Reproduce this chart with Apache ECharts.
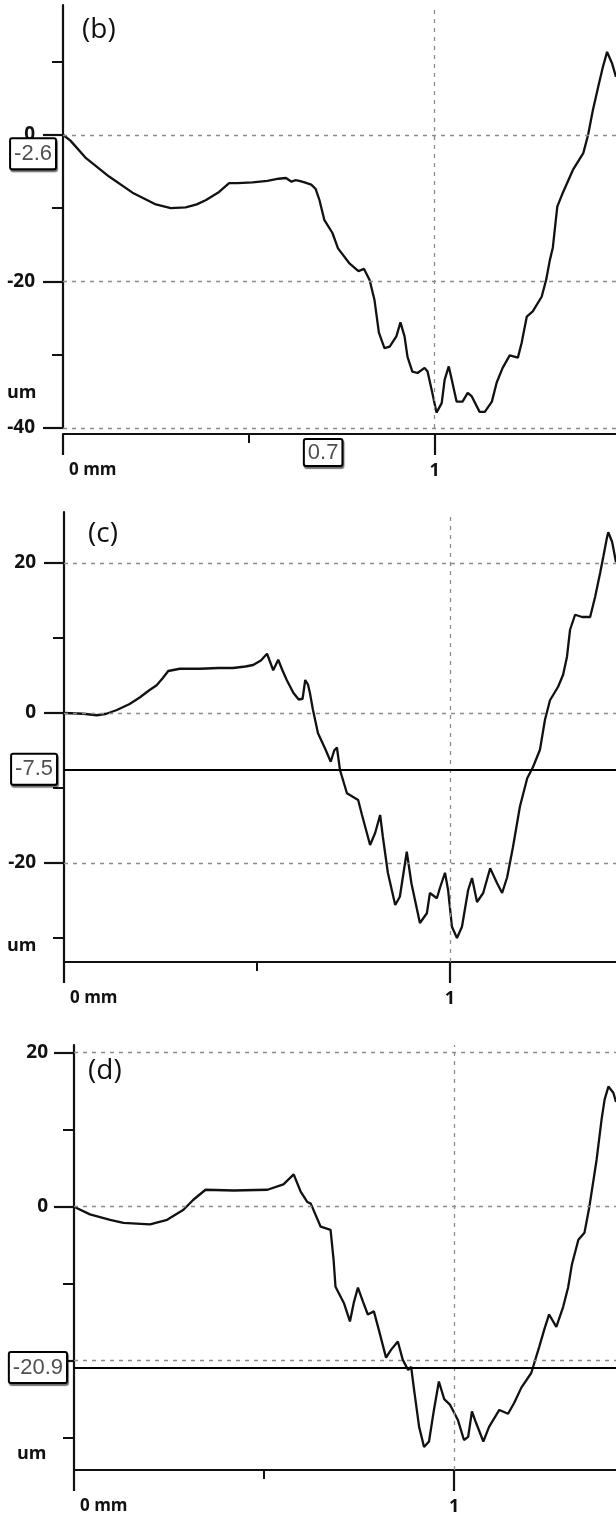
<!DOCTYPE html>
<html>
<head>
<meta charset="utf-8">
<script src="https://cdn.jsdelivr.net/npm/echarts@6/dist/echarts.min.js"></script>
<style>
  html, body { margin: 0; padding: 0; background: #fff; }
  #chart { width: 616px; height: 1519px; }
</style>
</head>
<body>
<div id="chart"></div>
<script>
// ---- profile (b): distance (mm) / height (um)
const bX = [0, 0.02, 0.062, 0.124, 0.187, 0.25, 0.29, 0.33, 0.36, 0.385, 0.42, 0.447, 0.47, 0.51, 0.55, 0.58, 0.60, 0.615, 0.625, 0.636, 0.65, 0.668, 0.68, 0.69, 0.703, 0.725, 0.74, 0.77, 0.795, 0.81, 0.825, 0.838, 0.85, 0.865, 0.879, 0.897, 0.908, 0.919, 0.927, 0.94, 0.954, 0.973, 0.981, 0.992, 1.005, 1.019, 1.027, 1.038, 1.046, 1.059, 1.075, 1.089, 1.10, 1.121, 1.135, 1.154, 1.167, 1.183, 1.202, 1.224, 1.234, 1.248, 1.264, 1.288, 1.30, 1.31, 1.318, 1.33, 1.345, 1.372, 1.40, 1.413, 1.426, 1.44, 1.453, 1.464, 1.477, 1.488];
const bY = [0, -0.8, -3.2, -5.7, -7.9, -9.5, -10.0, -9.9, -9.5, -8.9, -7.8, -6.6, -6.6, -6.5, -6.3, -6.0, -5.9, -6.4, -6.2, -6.3, -6.5, -6.8, -7.4, -8.9, -11.6, -13.4, -15.5, -17.5, -18.6, -18.3, -19.8, -22.5, -27, -29.1, -28.9, -27.5, -25.6, -27.5, -30.3, -32.3, -32.5, -31.8, -32.3, -34.8, -37.9, -36.6, -33.4, -31.6, -33.4, -36.4, -36.4, -35.2, -35.7, -37.8, -37.8, -36.4, -33.8, -31.8, -30.1, -30.4, -28.4, -24.8, -24.1, -22.1, -19.8, -17.1, -15.4, -9.8, -7.9, -4.8, -2.5, 0, 3.4, 6.5, 9.3, 11.3, 9.8, 7.9];

// ---- profile (c)
const cX = [0, 0.05, 0.085, 0.11, 0.137, 0.17, 0.197, 0.22, 0.24, 0.255, 0.27, 0.30, 0.352, 0.40, 0.438, 0.47, 0.49, 0.51, 0.526, 0.534, 0.542, 0.555, 0.565, 0.577, 0.594, 0.608, 0.618, 0.625, 0.632, 0.637, 0.645, 0.658, 0.676, 0.691, 0.70, 0.707, 0.715, 0.733, 0.762, 0.772, 0.793, 0.806, 0.819, 0.826, 0.839, 0.858, 0.87, 0.888, 0.90, 0.922, 0.94, 0.948, 0.966, 0.974, 0.987, 0.995, 1.005, 1.018, 1.031, 1.047, 1.057, 1.07, 1.086, 1.104, 1.122, 1.135, 1.148, 1.163, 1.181, 1.20, 1.215, 1.233, 1.246, 1.259, 1.28, 1.293, 1.303, 1.311, 1.324, 1.342, 1.363, 1.376, 1.389, 1.397, 1.407, 1.41, 1.42, 1.43];
const cY = [0, -0.1, -0.3, -0.1, 0.4, 1.2, 2.1, 3.0, 3.7, 4.6, 5.6, 5.9, 5.9, 6.0, 6.0, 6.2, 6.4, 7.0, 7.9, 6.8, 5.7, 7.1, 5.8, 4.4, 2.7, 1.8, 1.9, 4.4, 3.8, 2.7, 0.4, -2.7, -4.7, -6.5, -5.0, -4.6, -7.6, -10.7, -11.6, -13.6, -17.6, -16.0, -13.6, -16.5, -21.3, -25.6, -24.5, -18.5, -22.7, -28, -26.7, -24, -24.7, -23.3, -21.3, -23.6, -28.5, -30, -28.5, -23.6, -22, -25.2, -24, -20.7, -22.7, -24, -21.9, -17.9, -12.5, -8.7, -7.2, -4.9, -0.9, 1.7, 3.5, 5.1, 7.5, 11.1, 13.1, 12.8, 12.8, 15.5, 18.7, 20.8, 23.5, 24.1, 22.8, 20.1];

// ---- profile (d)
const dX = [0, 0.042, 0.095, 0.13, 0.2, 0.245, 0.288, 0.314, 0.346, 0.42, 0.509, 0.551, 0.578, 0.596, 0.614, 0.623, 0.649, 0.675, 0.683, 0.688, 0.71, 0.726, 0.736, 0.747, 0.76, 0.773, 0.789, 0.802, 0.821, 0.834, 0.852, 0.865, 0.879, 0.887, 0.894, 0.908, 0.921, 0.934, 0.947, 0.96, 0.974, 0.989, 1.01, 1.026, 1.037, 1.047, 1.058, 1.077, 1.092, 1.119, 1.142, 1.158, 1.177, 1.203, 1.211, 1.224, 1.237, 1.25, 1.269, 1.287, 1.30, 1.31, 1.327, 1.343, 1.356, 1.375, 1.388, 1.396, 1.406, 1.419, 1.426];
const dY = [0, -1.0, -1.7, -2.1, -2.3, -1.7, -0.4, 0.9, 2.2, 2.1, 2.2, 2.9, 4.2, 2.0, 0.6, 0.4, -2.6, -3.0, -6.9, -10.4, -12.5, -14.9, -12.5, -10.5, -12.3, -14.0, -13.6, -16, -19.6, -18.6, -17.5, -19.9, -21.2, -20.8, -23.5, -28.6, -31.2, -30.5, -26.4, -22.7, -25, -25.7, -27.7, -30.3, -29.9, -26.6, -28.1, -30.5, -28.6, -26.4, -26.9, -25.5, -23.5, -21.6, -20.3, -18.2, -16, -14.0, -15.6, -13, -10.5, -7.5, -4.3, -3.4, 0, 6.1, 11.3, 13.9, 15.6, 14.8, 13.6];

// ---- tick values
const xMajorTicks = [0, 1];
const xMinorTicks = [0.5];
const bYMajorTicks = [0, -20, -40];
const cYMajorTicks = [20, 0, -20];
const dYMajorTicks = [20, 0, -20];
const yMinorTicks = [10, -10, -30];

// ---- cursor readouts
const bCursorY = -2.6;
const bCursorX = 0.7;
const cCursorY = -7.5;
const dCursorY = -20.9;

const FONT = 'Open Sans';
const INK = '#111';

function zip(xs, ys) { return xs.map((x, i) => [x, ys[i]]); }

const boxLabel = {
  show: true,
  position: 'start',
  distance: 8,
  formatter: p => String(p.value),
  fontFamily: 'Liberation Sans',
  fontSize: 22,
  lineHeight: 22,
  color: '#505050',
  backgroundColor: '#fff',
  borderColor: '#000',
  borderWidth: 2,
  borderRadius: 1,
  padding: [4, 3, 3, 3],
  shadowColor: 'rgba(0,0,0,0.55)',
  shadowOffsetX: 1,
  shadowOffsetY: 2,
  shadowBlur: 1
};

const gridLine = { type: [4, 5], color: '#8c8c8c', width: 1.3 };

function panel(p) {
  const i = p.index;
  const grid = { left: p.left, top: p.top, width: 616 - p.left, height: p.height };
  const xMain = {
    gridIndex: i, type: 'value', min: 0, max: p.xMax, position: 'bottom', offset: p.xOffset,
    axisLine: { onZero: false, lineStyle: { color: INK, width: 2.2 } },
    axisTick: { customValues: xMajorTicks, length: 21, lineStyle: { color: INK, width: 2.2 } },
    axisLabel: {
      customValues: xMajorTicks, margin: 28, color: INK, fontFamily: FONT, fontSize: 18, fontWeight: 'bold',
      formatter: v => v === 0 ? '{z|0 mm}' : String(v),
      alignMinLabel: 'left',
      rich: { z: { fontFamily: FONT, fontSize: 17, fontWeight: 'bold', color: INK, padding: [0, 0, 0, 6] } }
    },
    splitLine: { show: false }
  };
  const xMinor = {
    gridIndex: i, type: 'value', min: 0, max: p.xMax, position: 'bottom', offset: p.xOffset,
    axisLine: { show: false, onZero: false },
    axisTick: { customValues: xMinorTicks, length: 9, lineStyle: { color: INK, width: 2 } },
    axisLabel: { show: false },
    splitLine: { show: false }
  };
  const yMain = {
    gridIndex: i, type: 'value', min: p.yMin, max: p.yMax, position: 'left',
    axisLine: { onZero: false, lineStyle: { color: INK, width: 2.2 } },
    axisTick: { customValues: p.yMajor, length: 20, lineStyle: { color: INK, width: 2.2 } },
    axisLabel: { customValues: p.yMajor, margin: p.labelMargin, color: INK, fontFamily: FONT, fontSize: 19, fontWeight: 'bold' },
    splitLine: { show: false }
  };
  const yMinor = {
    gridIndex: i, type: 'value', min: p.yMin, max: p.yMax, position: 'left',
    axisLine: { show: false, onZero: false },
    axisTick: { customValues: yMinorTicks, length: 11, lineStyle: { color: INK, width: 2 } },
    axisLabel: { show: false },
    splitLine: { show: false }
  };

  const marks = p.yMajor.map(v => ({ yAxis: v, lineStyle: gridLine, label: { show: false } }));
  marks.push({ xAxis: 1, lineStyle: gridLine, label: { show: false } });
  p.cursors.forEach(c => marks.push(c));

  const series = {
    type: 'line',
    xAxisIndex: 2 * i, yAxisIndex: 2 * i,
    data: zip(p.xs, p.ys),
    showSymbol: false, symbol: 'none', smooth: false,
    lineStyle: { color: INK, width: 2.3 },
    z: 3,
    markLine: { silent: true, symbol: ['none', 'none'], animation: false, data: marks }
  };
  return { grid, xAxes: [xMain, xMinor], yAxes: [yMain, yMinor], series };
}

const panels = [
  panel({
    index: 0, left: 63, top: 5, height: 423, xMax: 1.488, xOffset: 6, labelMargin: 28,
    yMin: -40, yMax: 17.7, yMajor: bYMajorTicks, xs: bX, ys: bY,
    cursors: [
      { yAxis: bCursorY, lineStyle: { color: 'rgba(0,0,0,0)', width: 1 }, label: Object.assign({}, boxLabel) },
      { xAxis: bCursorX, lineStyle: { color: 'rgba(0,0,0,0)', width: 1 },
        label: Object.assign({}, boxLabel, { distance: 12, padding: [2, 3, 1, 3] }) }
    ]
  }),
  panel({
    index: 1, left: 64, top: 512, height: 450, xMax: 1.43, xOffset: 0, labelMargin: 28,
    yMin: -33.2, yMax: 26.8, yMajor: cYMajorTicks, xs: cX, ys: cY,
    cursors: [
      { yAxis: cCursorY, lineStyle: { color: '#000', width: 2, type: 'solid' }, label: Object.assign({}, boxLabel) }
    ]
  }),
  panel({
    index: 2, left: 74, top: 1045, height: 425, xMax: 1.426, xOffset: 0, labelMargin: 26,
    yMin: -34.2, yMax: 21.0, yMajor: dYMajorTicks, xs: dX, ys: dY,
    cursors: [
      { yAxis: dCursorY, lineStyle: { color: '#000', width: 2, type: 'solid' }, label: Object.assign({}, boxLabel) }
    ]
  })
];

const unitText = (x, y) => ({
  type: 'text', left: x, top: y,
  style: { text: 'um', font: `bold 18px "${FONT}"`, fill: INK }
});

const option = {
  animation: false,
  backgroundColor: '#fff',
  grid: panels.map(p => p.grid),
  xAxis: panels.flatMap(p => p.xAxes),
  yAxis: panels.flatMap(p => p.yAxes),
  series: panels.map(p => p.series),
  graphic: [
    { type: 'text', left: 82, top: 16, style: { text: '(b)', font: '28px "Open Sans"', fill: INK } },
    { type: 'text', left: 88, top: 520, style: { text: '(c)', font: '28px "Open Sans"', fill: INK } },
    { type: 'text', left: 88, top: 1057, style: { text: '(d)', font: '28px "Open Sans"', fill: INK } },
    unitText(7, 384),
    unitText(7, 937),
    unitText(17, 1445)
  ]
};

const chart = echarts.init(document.getElementById('chart'), null, { renderer: 'canvas' });
chart.setOption(option);
</script>
</body>
</html>
